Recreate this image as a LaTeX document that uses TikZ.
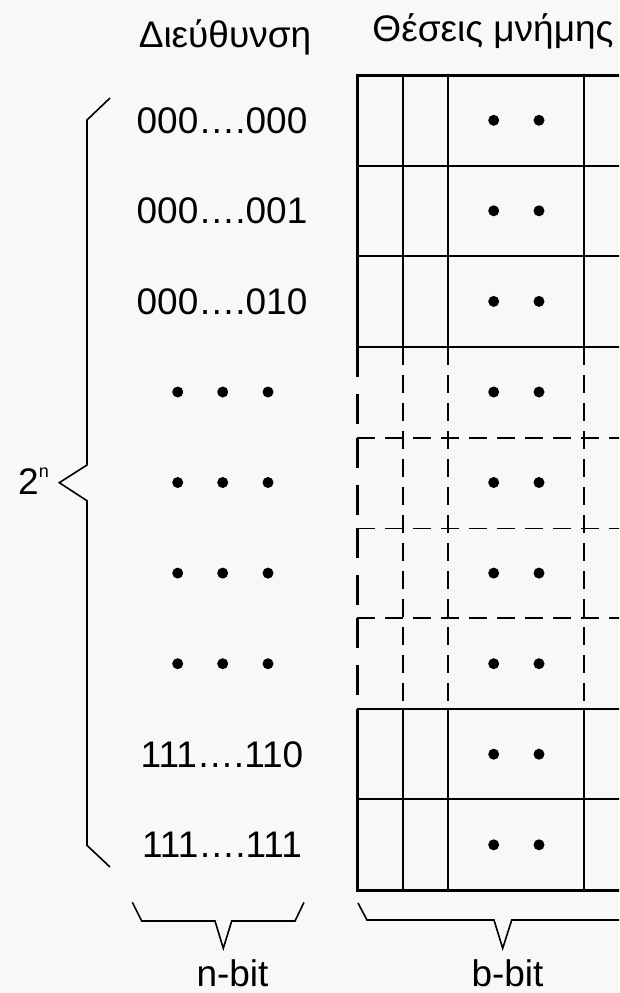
\documentclass[tikz,border=0pt]{standalone}
\usepackage{fontspec}
\setmainfont{Liberation Sans}
\definecolor{bgc}{RGB}{248,248,248}
\begin{document}
\begin{tikzpicture}[x=1pt,y=-1pt,
  thinln/.style={line width=1.6pt},
  thickln/.style={line width=3pt},
  dashin/.style={line width=1.6pt, dash pattern=on 18pt off 10pt},
  dashedge/.style={line width=3pt, dash pattern=on 30pt off 17pt},
  lbl/.style={font=\fontsize{37}{44}\selectfont, inner sep=0pt},
  bracepath/.style={line width=1.6pt, line join=miter}]
\fill[bgc] (0,0) rectangle (619,993);
\useasboundingbox (0,0) rectangle (619,993);

% headings
\node[lbl, anchor=base] (addr) at (225,47) {Διεύθυνση};
\node[lbl, anchor=base] (mem) at (493,41) {Θέσεις μνήμης};

% address labels
\foreach \t/\y/\n in {000….000/120.3/a1, 000….001/210.8/a2, 000….010/301.4/a3, 111….110/754.2/a8, 111….111/844.8/a9}
  \node[lbl, anchor=base] (\n) at (222,\y+13) {\t};
\foreach \y in {392,482.5,573.1,663.7}
  \foreach \x in {177.7,222.7,268}
    \fill (\x,\y) circle (5.5pt);

% memory grid
\begin{scope}
\clip (0,0) rectangle (619,993);
% solid upper part
\draw[thickln] (640,75) -- (357,75) -- (357,347);
\foreach \y in {166,256,347} \draw[thinln] (357,\y) -- (640,\y);
\foreach \x in {403,448,584} \draw[thinln] (\x,75) -- (\x,347);
% dashed middle part
\foreach \y in {437.7,528.3,618} \draw[dashin] (357,\y) -- (640,\y);
\foreach \x in {403,448,584} \draw[dashin] (\x,347) -- (\x,709);
\foreach \a/\b in {347/437.7,437.7/528.3,528.3/618,618/709}
  \draw[dashedge] (357,\a) -- (357,\b);
% solid lower part
\draw[line width=2.2pt] (357,709) -- (640,709);
\draw[thinln] (357,799) -- (640,799);
\draw[thickln] (357,709) -- (357,890) -- (640,890);
\foreach \x in {403,448,584} \draw[thinln] (\x,709) -- (\x,890);
% dots
\foreach \y in {120.3,210.8,301.4,392,482.5,573.1,663.7,754.2,844.8}
  \foreach \x in {493.7,539}
    \fill (\x,\y) circle (5.5pt);
% b-bit brace
\draw[bracepath] (358,903) -- (367,920) -- (494,920) -- (502.7,948.3) -- (511.7,920) -- (640,920);
\end{scope}

% left brace 2^n
\draw[bracepath] (110,98) -- (87,120) -- (87,465) -- (59.3,482.7) -- (87,500.7) -- (87,845.4) -- (110,867);
\node[lbl, anchor=base west] (pow) at (18,494) {2\raisebox{17pt}{\fontsize{18}{20}\selectfont n}};

% n-bit brace
\draw[bracepath] (132.3,902.3) -- (141.7,921) -- (215,921) -- (223.3,948.3) -- (231.7,921) -- (295,921) -- (304,902.3);
\node[lbl, anchor=base] (nbit) at (232.5,986) {n-bit};
\node[lbl, anchor=base] (bbit) at (507.5,986) {b-bit};
\end{tikzpicture}
\end{document}
